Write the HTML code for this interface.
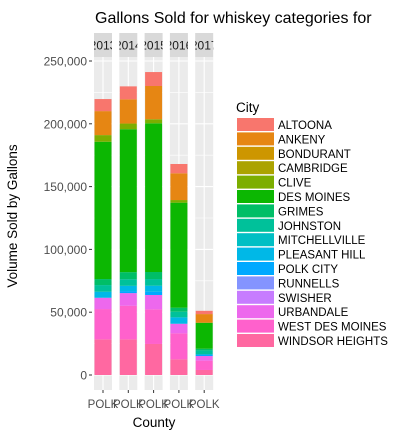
<!DOCTYPE html>
<html><head><meta charset="utf-8">
<style>
body{margin:0;background:#fff;}
svg text{font-family:"Liberation Sans",Arial,sans-serif;}
</style></head>
<body>
<svg id="chart" width="407" height="437" xmlns="http://www.w3.org/2000/svg">
<text x="95" y="23" font-size="16" fill="#000">Gallons Sold for whiskey categories for</text>
<text transform="translate(17,216) rotate(-90)" text-anchor="middle" font-size="13.5" fill="#000">Volume Sold by Gallons</text>
<text x="154" y="427" text-anchor="middle" font-size="13.5" fill="#000">County</text>
<text x="236" y="112" font-size="13.5" fill="#000">City</text>
<g id="panels"></g>
<g id="legend"></g>
</svg>
<script>
const years = ["2013","2014","2015","2016","2017"];
const cities = ["ALTOONA","ANKENY","BONDURANT","CAMBRIDGE","CLIVE","DES MOINES","GRIMES","JOHNSTON","MITCHELLVILLE","PLEASANT HILL","POLK CITY","RUNNELLS","SWISHER","URBANDALE","WEST DES MOINES","WINDSOR HEIGHTS"];
const colors = ["#F8766D","#E68613","#CD9600","#ABA300","#7CAE00","#0CB702","#00BE67","#00C19A","#00BFC4","#00B8E7","#00A9FF","#8494FF","#C77CFF","#ED68ED","#FF61CC","#FF68A1"];
// values per city, in order of years
const v2013 = [9600,19100,0,0,5300,109300,4800,5300,0,4800,0,0,0,9000,24100,28400];
const v2014 = [10300,19300,0,0,4500,113800,5600,5300,0,4200,1600,0,0,10100,26700,28400];
const v2015 = [11100,26500,0,0,3200,118400,5600,5300,0,4800,2600,0,0,11400,27600,24700];
const v2016 = [7400,21300,0,0,2100,83600,3200,4500,0,5100,0,0,0,7600,20700,12500];
const v2017 = [2600,6900,0,0,0,20700,1300,3200,0,0,1300,0,0,3700,7400,4000];
const series = [v2013,v2014,v2015,v2016,v2017];
const yTicks = [0,50000,100000,150000,200000,250000];
const yTickLabels = ["0","50,000","100,000","150,000","200,000","250,000"];

const NS="http://www.w3.org/2000/svg";
const y0=375, pxPer=62.8/50000;
const yScale = v => y0 - v*pxPer;
const panelLeft = i => 94 + i*25.3;
const PW=18, PT=57, PB=390;
function mk(tag, attrs, parent){const e=document.createElementNS(NS,tag);for(const k in attrs)e.setAttribute(k,attrs[k]);parent.appendChild(e);return e;}
const svg=document.getElementById('chart');
const g=document.getElementById('panels');

yTicks.forEach((t,k)=>{
  const y=yScale(t);
  const tx=mk('text',{x:87,y:y+4.5,'text-anchor':'end','font-size':'12',fill:'#4d4d4d'},g);
  
  
  tx.textContent=yTickLabels[k];
  const tl=mk('line',{x1:89,x2:92,y1:y,y2:y,stroke:'#333','stroke-width':1},g);
  
  
});

years.forEach((yr,i)=>{
  const x=panelLeft(i);
  const pg=mk('g',{},g);
  
  
  mk('rect',{x:x,y:PT,width:PW,height:PB-PT,fill:'#ebebeb'},pg);
  for(let t=25000;t<=275000;t+=50000){const y=yScale(t);if(y>PT)mk('line',{x1:x,x2:x+PW,y1:y,y2:y,stroke:'#fff','stroke-width':0.6},pg);}
  yTicks.forEach(t=>{const y=yScale(t);mk('line',{x1:x,x2:x+PW,y1:y,y2:y,stroke:'#fff','stroke-width':1.1},pg);});
  mk('line',{x1:x+PW/2,x2:x+PW/2,y1:PT,y2:PB,stroke:'#fff','stroke-width':1.1},pg);
  const cp=mk('clipPath',{id:'clip'+i},pg);
  mk('rect',{x:x,y:33,width:PW,height:24},cp);
  mk('rect',{x:x,y:33,width:PW,height:24,fill:'#d9d9d9'},pg);
  const st=mk('text',{x:x+PW/2,y:49.5,'text-anchor':'middle','font-size':'12',fill:'#1a1a1a','clip-path':'url(#clip'+i+')'},pg);
  
  
  st.textContent=yr;
  let cum=0;
  const vals=series[i];
  for(let c=cities.length-1;c>=0;c--){
    const v=vals[c]; if(!v) continue;
    const yt=yScale(cum+v), yb=yScale(cum);
    const r=mk('rect',{x:x+0.5,y:yt,width:PW-1,height:yb-yt,fill:colors[c]},pg);
    
    
    cum+=v;
  }
  const xt=mk('line',{x1:x+PW/2,x2:x+PW/2,y1:PB,y2:PB+3,stroke:'#333','stroke-width':1},pg);
  
  
  const xl=mk('text',{x:x+PW/2,y:408,'text-anchor':'middle','font-size':'11.5',fill:'#4d4d4d'},pg);
  
  
  xl.textContent='POLK';
});

const lg=document.getElementById('legend');
cities.forEach((c,k)=>{
  const y=118+k*14.4;
  const e=mk('g',{},lg);
  
  
  mk('rect',{x:237,y:y,width:37,height:13,fill:colors[k]},e);
  const t=mk('text',{x:278,y:y+11,'font-size':'11.5',fill:'#000'},e);
  t.textContent=c;
});
</script>
</body></html>
